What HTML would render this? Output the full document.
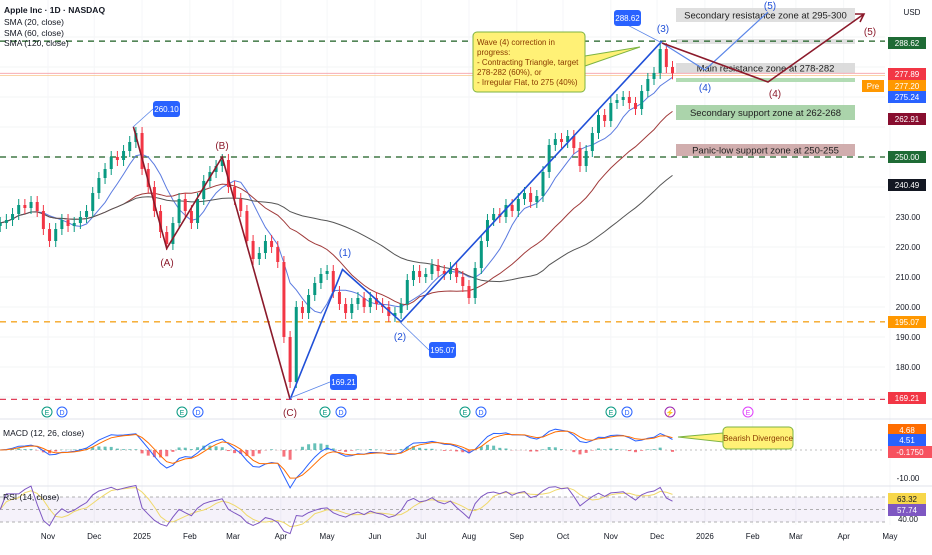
<!DOCTYPE html>
<html><head><meta charset="utf-8">
<style>
html,body{margin:0;padding:0;background:#fff;}
body{width:932px;height:550px;overflow:hidden;font-family:"Liberation Sans",sans-serif;}
svg text{font-family:"Liberation Sans",sans-serif;}
</style></head>
<body>
<svg id="chart" width="932" height="550" viewBox="0 0 932 550" xmlns="http://www.w3.org/2000/svg">
<g id="grid"></g>
<g id="zones"></g>
<g id="hlines"></g>
<g id="mas"></g>
<g id="candles"></g>
<g id="waves"></g>
<g id="macd"></g>
<g id="rsi"></g>
<g id="axis"></g>
<g id="xaxis"></g>
<g id="annot"></g>
</svg>
<script>
// ---- data ----
const closes = [228,229,231,234,233,235,232,226,222,226,229,227,228,230,232,238,243,246,250,249,252,255,258,246,240,232,225,221,228,236,232,228,236,242,245,247,249,240,236,232,222,216,218,222,220,215,190,175,200,198,204,208,211,212,205,201,198,201,203,200,203,201,200,197,198,201,209,212,210,211,214,212,211,213,210,207,203,213,222,229,231,230,234,232,236,238,235,237,245,254,256,255,257,253,247,252,258,264,262,268,269,270,268,266,272,276,278,286,280,277.9];
const priceTicks = [230,220,210,200,190,180];
const monthLabels = ["Nov","Dec","2025","Feb","Mar","Apr","May","Jun","Jul","Aug","Sep","Oct","Nov","Dec","2026","Feb","Mar","Apr","May"];
const monthDays = [31,61,92,123,151,182,212,243,273,304,335,365,396,426,457,488,516,547,577];
const levelValues = [288.62,250,195.07,169.21];
const waveRed = [[21.6,260.1],[27,219.5],[36,250],[47,169.21]];
const waveBlue = [[47,169.21],[55.5,212.5],[65,195.07],[107.3,288.62]];
const NS="http://www.w3.org/2000/svg";
const X0=48, PXD=1.542, STEP=4;
function xOf(i){return X0+(i*STEP-31)*PXD;}
function xDay(d){return X0+(d-31)*PXD;}
function yP(p){return 157+(250-p)*3.0;}
function yM(v){return 450-v*2.8;}
function yR(v){return 497-(v-70)*0.625;}
function mk(parent,tag,attrs,text){const e=document.createElementNS(NS,tag);for(const k in attrs)e.setAttribute(k,attrs[k]);if(text!==undefined)e.textContent=text;document.getElementById(parent).appendChild(e);return e;}

// grid
for(const p of [290,280,270,260,250,240,230,220,210,200,190,180,170]){const l=mk('grid','line',{x1:0,x2:885,y1:yP(p),y2:yP(p),stroke:'#f3f4f6','stroke-width':1});

}
monthDays.forEach(d=>{const l=mk('grid','line',{x1:xDay(d),x2:xDay(d),y1:0,y2:525,stroke:'#f5f6f8','stroke-width':1});

});
for(const y of [419,486]){const l=mk('grid','line',{x1:0,x2:932,y1:y,y2:y,stroke:'#e0e3eb','stroke-width':1});

}

// zones
const zones=[[676,8,179,14,'#d9d9d9','Secondary resistance zone at 295-300'],[676,39,179,5,'#dcdcdc',''],[676,63,179,10,'#d6d6d6','Main resistance zone at 278-282'],[676,78,179,4,'#a5d6a7',''],[676,105,179,15,'#9ccc9c','Secondary support zone at 262-268'],[676,144,179,12,'#c9a0a0','Panic-low support zone at 250-255']];
zones.forEach(z=>{const r=mk('zones','rect',{x:z[0],y:z[1],width:z[2],height:z[3],fill:z[4],opacity:0.85});


if(z[5]){const t=mk('zones','text',{x:z[0]+z[2]/2,y:z[1]+z[3]/2+3.5,'font-size':9.5,'text-anchor':'middle',fill:'#222'},z[5]);

}});

// level lines
const levelColors=['#1b5e20','#1b5e20','#f5a623','#e0405a'];
levelValues.forEach((v,i)=>{const l=mk('hlines','line',{x1:0,x2:885,y1:yP(v),y2:yP(v),stroke:levelColors[i],'stroke-width':1.3,'stroke-dasharray':'6 5'});

});
for(const [v,c] of [[277.89,'#f5a0a8'],[277.2,'#f8c58a']]){const l=mk('hlines','line',{x1:0,x2:885,y1:yP(v),y2:yP(v),stroke:c,'stroke-width':0.8});

}

// moving averages
function sma(n,arr){arr=arr||closes;return arr.map((c,i)=>{const s=arr.slice(Math.max(0,i-n+1),i+1);return s.reduce((a,b)=>a+b,0)/s.length;});}
[[7,'#5b7be0'],[21,'#a03a3a'],[42,'#555']].forEach(([n,c])=>{const v=sma(n);const p=mk('mas','path',{d:v.map((y,i)=>(i?'L':'M')+xOf(i).toFixed(1)+' '+yP(y).toFixed(1)).join(' '),fill:'none',stroke:c,'stroke-width':1});

});

// candles
closes.forEach((c,i)=>{const o=i?closes[i-1]:c-1;const up=c>=o;const col=up?'#089981':'#f23645';const x=xOf(i);
const w=mk('candles','line',{x1:x,x2:x,y1:yP(Math.max(o,c)+2),y2:yP(Math.min(o,c)-2),stroke:col,'stroke-width':1});


const b=mk('candles','rect',{x:x-1.5,y:yP(Math.max(o,c)),width:3,height:Math.max(1,Math.abs(yP(o)-yP(c))),fill:col});

});

// waves
function wpath(pts,c,name){const p=mk('waves','path',{d:pts.map((q,i)=>(i?'L':'M')+xOf(q[0]).toFixed(1)+' '+yP(q[1]).toFixed(1)).join(' '),fill:'none',stroke:c,'stroke-width':1.6});

}
wpath(waveRed,'#8b1a2b','abc-correction-wave');
wpath(waveBlue,'#2050d8','impulse-wave');
{const p=mk('waves','path',{d:'M662 43 L705 70 L768 12',fill:'none',stroke:'#5b86e8','stroke-width':1.2});


const q=mk('waves','path',{d:'M662 43 L768 82 L864 14 M855 14 L864 14 L860 22',fill:'none',stroke:'#8b1a2b','stroke-width':1.6});

}
const wlabels=[[167,266,'(A)','#8b1a2b'],[222,149,'(B)','#8b1a2b'],[290,416,'(C)','#8b1a2b'],[345,256,'(1)','#2050d8'],[400,340,'(2)','#2050d8'],[663,32,'(3)','#2050d8'],[705,91,'(4)','#2050d8'],[775,97,'(4)','#8b1a2b'],[770,9,'(5)','#2050d8'],[870,35,'(5)','#8b1a2b']];
wlabels.forEach(l=>{const t=mk('waves','text',{x:l[0],y:l[1],'font-size':10,'text-anchor':'middle',fill:l[3]},l[2]);

});
[[153,109,'260.10',133,127],[330,382,'169.21',290,398],[429,350,'195.07',400,322],[614,18,'288.62',662,43]].forEach(t=>{
const l=mk('waves','line',{x1:t[0],y1:t[1],x2:t[3],y2:t[4],stroke:'#5b86e8','stroke-width':0.8});


const r=mk('waves','rect',{x:t[0],y:t[1]-8,width:27,height:16,rx:3,fill:'#2962ff'});


const s=mk('waves','text',{x:t[0]+13.5,y:t[1]+3,'font-size':8,'text-anchor':'middle',fill:'#fff'},t[2]);

});

// MACD
function ema(arr,n){const k=2/(n+1);let e=arr[0];return arr.map(v=>e=v*k+e*(1-k));}
const e12=ema(closes,4.2),e26=ema(closes,9.1);const macdV=e12.map((v,i)=>v-e26[i]);const sig=ema(macdV,3.2);
{const z=mk('macd','line',{x1:0,x2:885,y1:yM(0),y2:yM(0),stroke:'#aaa','stroke-width':0.8,'stroke-dasharray':'2 3'});

}
macdV.forEach((v,i)=>{const h=v-sig[i];const r=mk('macd','rect',{x:xOf(i)-1.5,y:Math.min(yM(0),yM(h)),width:3,height:Math.abs(yM(h)-yM(0)),fill:h>=0?'#26a69a':'#f23645',opacity:0.7});

});
[[macdV,'#2962ff'],[sig,'#ff6d00']].forEach(([a,c])=>{const p=mk('macd','path',{d:a.map((v,i)=>(i?'L':'M')+xOf(i).toFixed(1)+' '+yM(v).toFixed(1)).join(' '),fill:'none',stroke:c,'stroke-width':1});

});
{const t=mk('macd','text',{x:3,y:436,'font-size':8.5,fill:'#131722'},'MACD (12, 26, close)');

}

// RSI
let g=0,lo=0;const rsiV=closes.map((c,i)=>{if(!i)return 50;const d=c-closes[i-1];g=(g*6+Math.max(d,0))/7;lo=(lo*6+Math.max(-d,0))/7;return lo===0?75:100-100/(1+g/lo);});
const rsiMa=sma(4,rsiV);
{const b=mk('rsi','rect',{x:0,y:yR(70),width:885,height:yR(30)-yR(70),fill:'#7e57c2',opacity:0.08});


for(const v of [70,50,30]){const l=mk('rsi','line',{x1:0,x2:885,y1:yR(v),y2:yR(v),stroke:'#999','stroke-width':0.7,'stroke-dasharray':'3 3'});

}}
[[rsiMa,'#f0d96b'],[rsiV,'#7e57c2']].forEach(([a,c])=>{const p=mk('rsi','path',{d:a.map((v,i)=>(i?'L':'M')+xOf(i).toFixed(1)+' '+yR(v).toFixed(1)).join(' '),fill:'none',stroke:c,'stroke-width':1});

});
{const t=mk('rsi','text',{x:3,y:500,'font-size':8.5,fill:'#131722'},'RSI (14, close)');

}

// price axis
priceTicks.forEach(p=>{const t=mk('axis','text',{x:908,y:yP(p)+3,'font-size':8,'text-anchor':'middle',fill:'#131722'},p.toFixed(2));

});
const tags=[[288.62,'#1e6b35','#fff','288.62'],[277.89,'#f23645','#fff','277.89'],[277.2,'#ff9800','#fff','277.20'],[275.24,'#2962ff','#fff','275.24'],[262.91,'#880e2f','#fff','262.91'],[250,'#1e6b35','#fff','250.00'],[240.49,'#131722','#fff','240.49'],[195.07,'#ff9800','#fff','195.07'],[169.21,'#f23645','#fff','169.21']];
const tagY=[43,74,86,97,119,157,185,322,398];
tags.forEach((t,i)=>{const r=mk('axis','rect',{x:888,y:tagY[i]-6,width:38,height:12,fill:t[1]});


const s=mk('axis','text',{x:907,y:tagY[i]+3,'font-size':8,'text-anchor':'middle',fill:t[2]},t[3]);

});
{const r=mk('axis','rect',{x:862,y:80,width:22,height:12,fill:'#ff9800'});


const s=mk('axis','text',{x:873,y:89,'font-size':8,'text-anchor':'middle',fill:'#fff'},'Pre');


const u=mk('axis','text',{x:912,y:15,'font-size':8,'text-anchor':'middle',fill:'#131722'},'USD');

}
[[430,'#ff6d00','4.68',38],[440,'#2962ff','4.51',38],[452,'#f7525f','-0.1750',44],[499,'#f7d74a','63.32',38],[510,'#7e57c2','57.74',38]].forEach(t=>{const r=mk('axis','rect',{x:888,y:t[0]-6,width:t[3],height:12,fill:t[1]});


const s=mk('axis','text',{x:888+t[3]/2,y:t[0]+3,'font-size':8,'text-anchor':'middle',fill:t[1]==='#f7d74a'?'#131722':'#fff'},t[2]);

});
[[478,'-10.00'],[519,'40.00']].forEach(t=>{const s=mk('axis','text',{x:908,y:t[0]+3,'font-size':8,'text-anchor':'middle',fill:'#131722'},t[1]);

});

// time axis
monthLabels.forEach((m,i)=>{const t=mk('xaxis','text',{x:xDay(monthDays[i]),y:539,'font-size':8,'text-anchor':'middle',fill:'#131722'},m);

});

// legend
[['Apple Inc · 1D · NASDAQ',13,'bold'],['SMA (20, close)',25,'normal'],['SMA (60, close)',36,'normal'],['SMA (120, close)',46,'normal']].forEach(l=>{const t=mk('annot','text',{x:4,y:l[1],'font-size':8.5,'font-weight':l[2],fill:'#131722'},l[0]);

});
[[47,'E','#089981'],[62,'D','#2962ff'],[182,'E','#089981'],[198,'D','#2962ff'],[325,'E','#089981'],[341,'D','#2962ff'],[465,'E','#089981'],[481,'D','#2962ff'],[611,'E','#089981'],[627,'D','#2962ff'],[670,'⚡','#9c27b0'],[748,'E','#e040fb']].forEach(m=>{const c=mk('annot','circle',{cx:m[0],cy:412,r:5,fill:'#fff',stroke:m[2],'stroke-width':1});


const t=mk('annot','text',{x:m[0],y:415,'font-size':7,'text-anchor':'middle',fill:m[2]},m[1]);

});
{const p=mk('annot','path',{d:'M585 56 L640 47 L585 66 Z',fill:'#fff176',stroke:'#7cb342','stroke-width':1});


const r=mk('annot','rect',{x:473,y:32,width:112,height:60,rx:4,fill:'#fff176',stroke:'#7cb342','stroke-width':1});


['Wave (4) correction in','progress:','- Contracting Triangle, target','278-282 (60%), or','- Irregular Flat, to 275 (40%)'].forEach((s,i)=>{const t=mk('annot','text',{x:477,y:45+i*10,'font-size':8,fill:'#8a3a00'},s);

});
const q=mk('annot','path',{d:'M723 433 L678 437 L723 442 Z',fill:'#fff176',stroke:'#7cb342','stroke-width':1});


const r2=mk('annot','rect',{x:723,y:427,width:70,height:22,rx:4,fill:'#fff176',stroke:'#7cb342','stroke-width':1});


const t2=mk('annot','text',{x:758,y:441,'font-size':8,'text-anchor':'middle',fill:'#8a3a00'},'Bearish Divergence');

}
</script>
</body></html>
